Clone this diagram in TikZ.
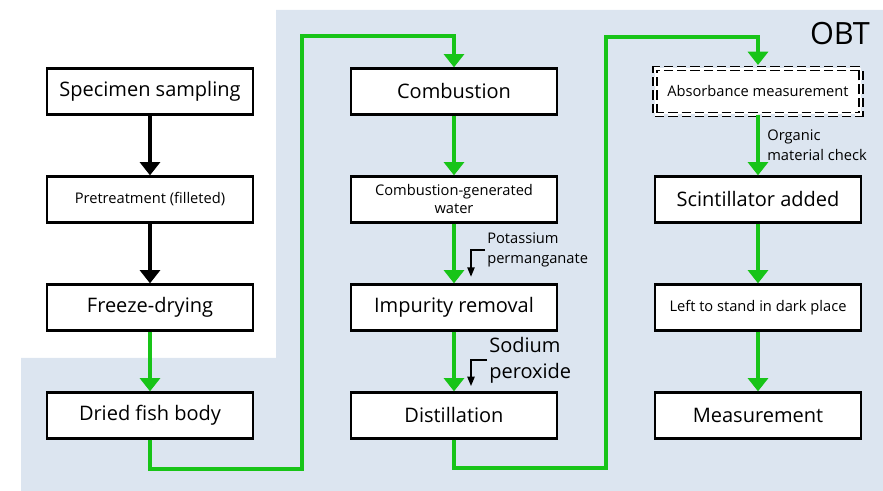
\documentclass[tikz,border=0pt]{standalone}
\usepackage{fontspec}
\setmainfont{Open Sans}
\usetikzlibrary{arrows.meta,positioning,calc}
\definecolor{obtBlue}{RGB}{220,229,240}
\definecolor{flowGreen}{RGB}{24,196,24}
\tikzset{%
  % Specifications for style of nodes:
     base/.style = {rectangle, draw=black, line width=1.7pt, fill=white,
                    minimum width=154.5pt, minimum height=34.5pt,
                    text centered, align=center, inner sep=1pt},
     bigStep/.style = {base, font=\fontsize{15}{17}\selectfont},
     smallStep/.style = {base, font=\fontsize{11}{13.5}\selectfont},
     checkStep/.style = {smallStep, line width=1.2pt, double, double distance=1.8pt,
                         dash pattern=on 7pt off 3pt},
     note/.style = {align=left, inner sep=1.5pt, font=\fontsize{11}{14.5}\selectfont},
     bigNote/.style = {note, font=\fontsize{15}{19.5}\selectfont},
  % Specifications for style of lines:
     flow/.style = {draw=flowGreen, line width=3pt, -{Triangle[width=15pt,length=10pt]}},
     prep/.style = {flow, draw=black},
     agent/.style = {draw=black, line width=1pt, -{Triangle[width=5.5pt,length=7pt]}},
}
\begin{document}
\begin{tikzpicture}[x=0.75pt, y=0.75pt, node distance=81pt]
  \useasboundingbox (0,0) rectangle (883,-491);
  % OBT area
  \fill[obtBlue] (21,-358) -- (276,-358) -- (276,-10) -- (883,-10) -- (883,-491) -- (21,-491) -- cycle;
  \node (obt) at (840,-34) {\fontsize{23}{26}\selectfont OBT};

  % Specification of nodes (position, etc.)
  \node (spec)      [bigStep] at (150,-91.5) {Specimen sampling};
  \node (pretreat)  [smallStep, below of=spec] {Pretreatment (filleted)};
  \node (freeze)    [bigStep, below of=pretreat] {Freeze-drying};
  \node (dried)     [bigStep, below of=freeze] {Dried fish body};

  \node (combust)   [bigStep, right of=spec, xshift=147pt] {Combustion};
  \node (water)     [smallStep, below of=combust] {Combustion-generated\\water};
  \node (impurity)  [bigStep, below of=water] {Impurity removal};
  \node (distil)    [bigStep, below of=impurity] {Distillation};

  \node (absorb)    [checkStep, right of=combust, xshift=147pt] {Absorbance measurement};
  \node (scint)     [bigStep, below of=absorb] {Scintillator added};
  \node (dark)      [smallStep, below of=scint] {Left to stand in dark place};
  \node (measure)   [bigStep, below of=dark] {Measurement};

  % reagents
  \node (kmno4)  [note, anchor=west] at ([xshift=23.25pt,yshift=25pt]impurity.north)
                 {Potassium\\permanganate};
  \node (na2o2)  [bigNote, anchor=west] at ([xshift=24.75pt,yshift=23.5pt]distil.north)
                 {Sodium\\peroxide};

  % Specification of lines between nodes specified above
  \draw[prep] (spec) to (pretreat);
  \draw[prep] (pretreat) to (freeze);
  \draw[flow] (freeze) to (dried);

  \draw[flow] (dried.south) -- ++(0,-29) -| ($(freeze.east)!0.5!(impurity.west)$)
              |- ([yshift=23.25pt]combust.north) -- (combust.north);

  \draw[flow] (combust) to (water);
  \draw[flow] (water) to (impurity);
  \draw[flow] (impurity) to (distil);
  \draw[agent, shorten >=5pt] (kmno4.west) -| ([xshift=12.75pt]impurity.north);
  \draw[agent, shorten >=4pt] (na2o2.west) -| ([xshift=12.75pt]distil.north);

  \draw[flow] (distil.south) -- ++(0,-28) -| ($(impurity.east)!0.5!(dark.west)$)
              |- ([yshift=23.25pt]absorb.north) -- ([yshift=2pt]absorb.north);

  \draw[flow] (absorb) to node[note, right, xshift=4pt] {Organic\\material check} (scint);
  \draw[flow] (scint) to (dark);
  \draw[flow] (dark) to (measure);
\end{tikzpicture}
\end{document}
